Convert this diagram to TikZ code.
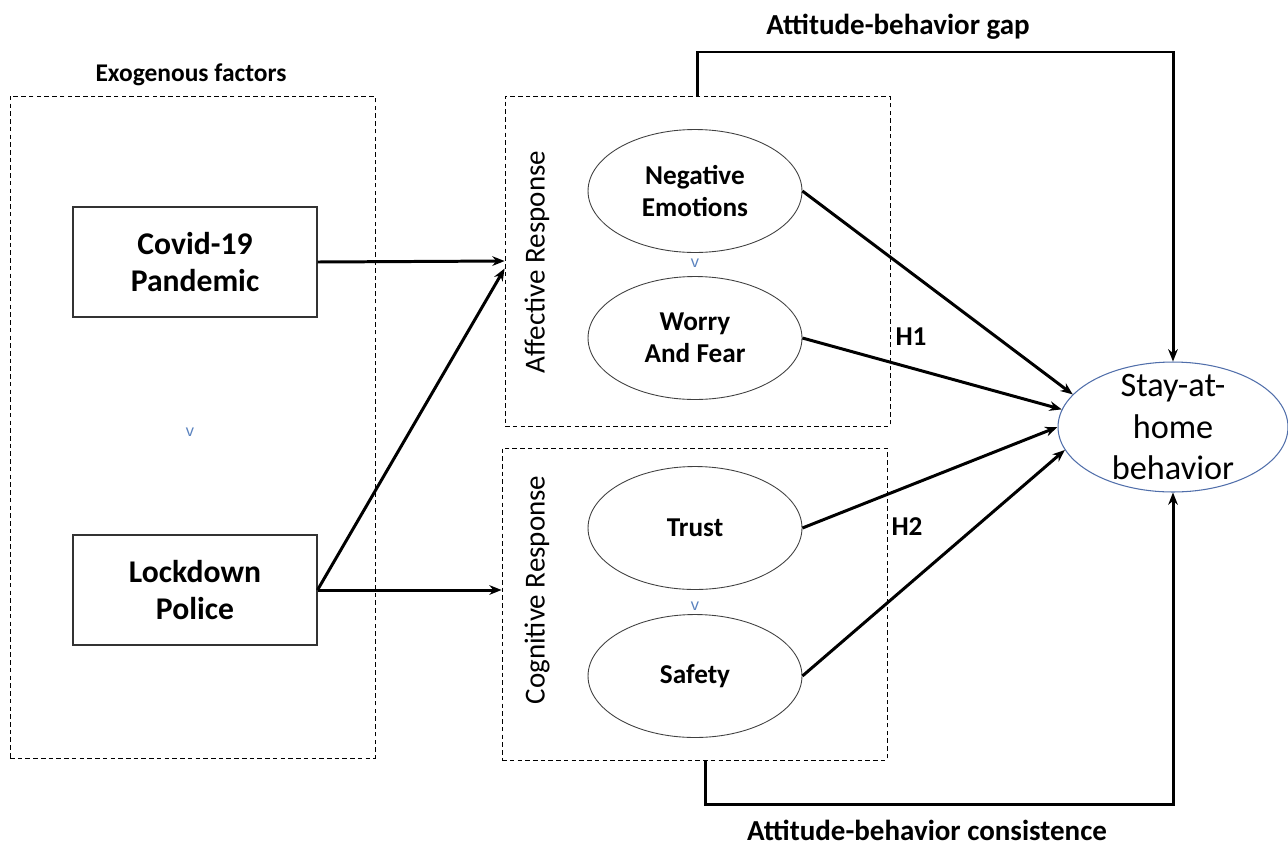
\documentclass[tikz,border=0pt]{standalone}
\usepackage{fontspec}
\setmainfont{Carlito}
\usetikzlibrary{shapes.geometric,arrows.meta}

\begin{document}
\begin{tikzpicture}[x=0.02cm, y=-0.02cm,
                   every node/.style = {align          = center,
                                        font           = \bfseries\fontsize{15.5}{18.5}\selectfont},
                   frame/.style      = {shape          = rectangle,
                                        draw,
                                        line width     = 0.5pt,
                                        dash pattern   = on 2.6pt off 1.8pt},
                   factor/.style     = {shape          = rectangle,
                                        draw           = black!80,
                                        line width     = 0.6pt,
                                        minimum width  = 4.88cm,
                                        minimum height = 2.2cm,
                                        font           = \bfseries\fontsize{18}{21}\selectfont},
                   latent/.style     = {shape          = ellipse,
                                        draw           = black!75,
                                        line width     = 0.5pt,
                                        inner sep      = 1pt,
                                        minimum width  = 4.28cm,
                                        minimum height = 2.46cm},
                   outcome/.style    = {shape          = ellipse,
                                        draw           = {rgb,255:red,80;green,110;blue,170},
                                        line width     = 0.6pt,
                                        minimum width  = 4.6cm,
                                        minimum height = 2.6cm},
                   stray v/.style    = {font           = \sffamily\fontsize{11}{11}\selectfont,
                                        text           = {rgb,255:red,90;green,130;blue,190}},
                   black edge/.style = {-{Stealth[length=7pt,width=5.5pt]},
                                        line width     = 1.7pt}]

\useasboundingbox (0,0) rectangle (1288,846);

% the frames
\node[frame, minimum width=7.3cm, minimum height=13.24cm] (box;0) at (192.5,427) {};
\node[frame, minimum width=7.7cm, minimum height=6.6cm]   (box;1) at (697.5,261) {};
\node[frame, minimum width=7.7cm, minimum height=6.24cm]  (box;2) at (694.5,604) {};

% the nodes
\node[factor] (0;1)  at (195,262) {Covid-19\\Pandemic};
\node[factor] (0;-1) at (195,590) {Lockdown\\Police};
  \node[latent] (1;2)  at (695,191) {Negative\\Emotions};
  \node[latent] (1;1)  at (695,338) {Worry\\And Fear};
  \node[latent] (1;-1) at (695,528) {Trust};
  \node[latent] (1;-2) at (695,676) {Safety};
     \node[outcome] (2;0) at (1173,427) {};
     \node[font=\fontsize{19.5}{23.5}\selectfont] (2;0;text) at (2;0) {Stay-at-\\home\\behavior};

% labels
\node[font=\bfseries\fontsize{14.5}{17}\selectfont] (lab;0) at (191,75) {Exogenous factors};
\node[rotate=90, font=\fontsize{16.5}{19}\selectfont] (lab;1) at (537,262) {Affective Response};
\node[rotate=90, font=\fontsize{16.5}{19}\selectfont] (lab;2) at (537,590) {Cognitive Response};
\node[font=\bfseries\fontsize{16.5}{19}\selectfont] (gap;lab)  at (898,27)  {Attitude-behavior gap};
\node[font=\bfseries\fontsize{16.5}{19}\selectfont] (cons;lab) at (927,830) {Attitude-behavior consistence};
\node (H1) at (911,337) {H1};
\node (H2) at (907,527) {H2};
\node[stray v] (v;0) at (190,432) {v};
\node[stray v] (v;1) at (695,263) {v};
\node[stray v] (v;2) at (695,606) {v};

% edges
\draw[black edge] (0;1.east)  -- (box;1.west);
\draw[black edge] (0;-1.east) -- ([yshift=-0.15cm]box;1.west);
\draw[black edge] (0;-1.east) -- (box;2.west |- 0;-1.east);
\foreach \j/\a in {2/162, 1/171, -1/180, -2/192}
  { \draw[black edge] (1;\j.east) -- (2;0.\a); }

\coordinate (gap) at (700,52);
\coordinate (cons) at (705,804);
\draw[black edge] (box;1.north) -- (box;1.north |- gap) -| (2;0.north);
\draw[black edge] (box;2.south -| cons) -- (cons) -| (2;0.south);
\end{tikzpicture}
\end{document}
